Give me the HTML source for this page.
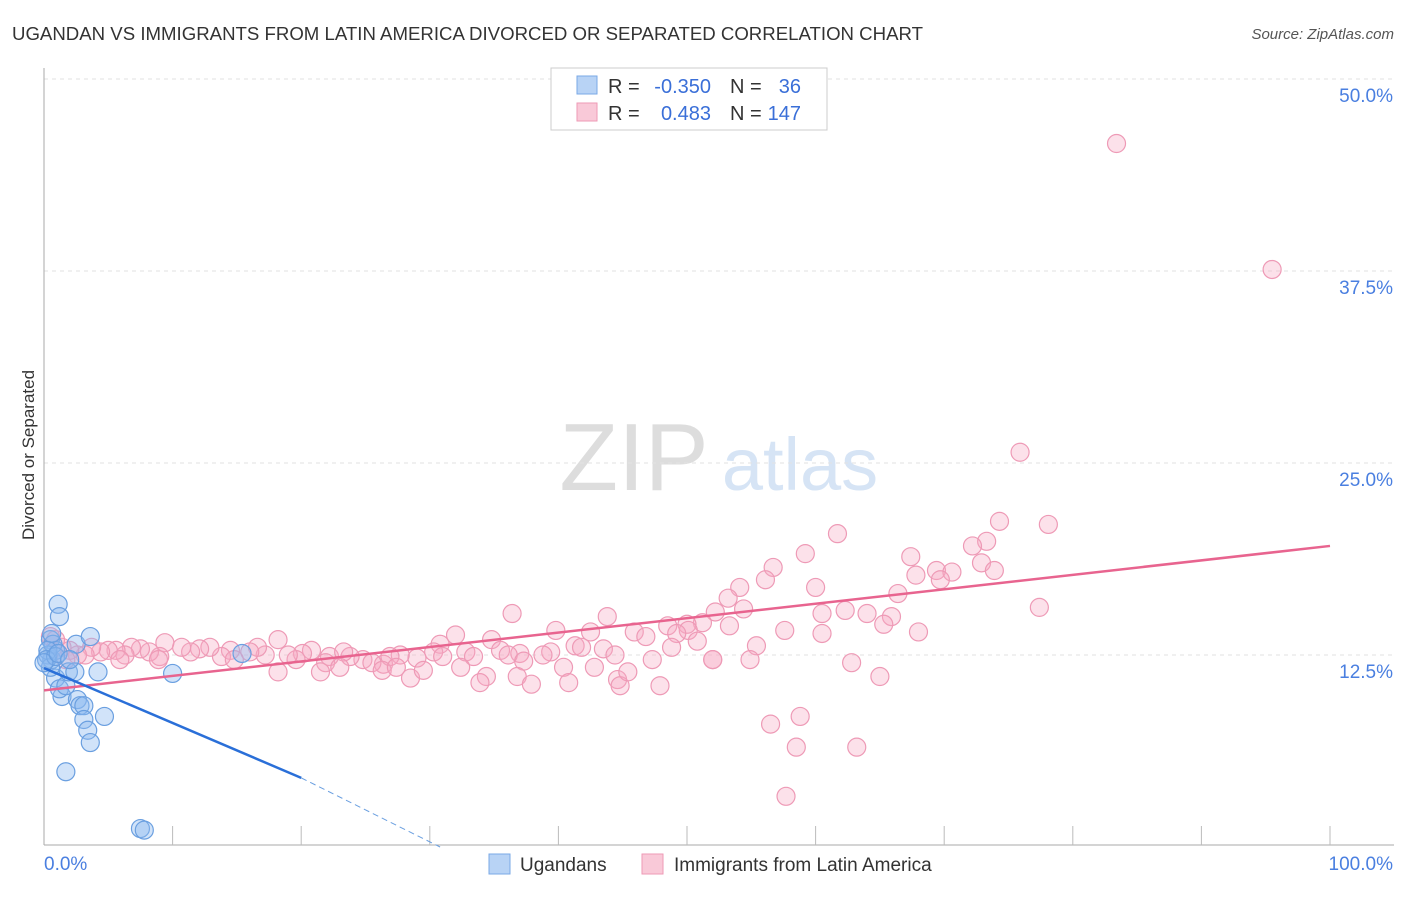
<!DOCTYPE html>
<html><head><meta charset="utf-8"><style>
body{margin:0;background:#fff;font-family:"Liberation Sans",sans-serif;}
svg text{font-family:"Liberation Sans",sans-serif;}
</style></head><body>
<svg id="chart" width="1406" height="892" xmlns="http://www.w3.org/2000/svg">
<text x="12" y="40" font-size="18" fill="#333" textLength="911" lengthAdjust="spacingAndGlyphs">UGANDAN VS IMMIGRANTS FROM LATIN AMERICA DIVORCED OR SEPARATED CORRELATION CHART</text>
<text x="1394" y="39" font-size="15" fill="#555" font-style="italic" text-anchor="end">Source: ZipAtlas.com</text>
<g>
<text x="634" y="490" font-size="96" fill="#ddd" font-family="Liberation Serif" text-anchor="middle">ZIP</text>
<text x="800" y="490" font-size="74" fill="#d6e4f5" text-anchor="middle">atlas</text>
</g>
<g id="grid"></g>
<g id="axes"></g>
<g id="marks"></g>
<text transform="translate(34,455) rotate(-90)" font-size="17" fill="#333" text-anchor="middle">Divorced or Separated</text>
<g>
<rect x="551" y="68" width="276" height="62" fill="#fff" stroke="#ccc"/>
<rect x="577" y="76" width="20" height="18" fill="#b8d3f5" stroke="#7aa8e6"/>
<rect x="577" y="103" width="20" height="18" fill="#f9c9d8" stroke="#ee9ab6"/>
<text x="608" y="93" font-size="20" fill="#333">R =</text>
<text x="711" y="93" font-size="20" fill="#3a6fd8" text-anchor="end">-0.350</text>
<text x="730" y="93" font-size="20" fill="#333">N =</text>
<text x="801" y="93" font-size="20" fill="#3a6fd8" text-anchor="end">36</text>
<text x="608" y="120" font-size="20" fill="#333">R =</text>
<text x="711" y="120" font-size="20" fill="#3a6fd8" text-anchor="end">0.483</text>
<text x="730" y="120" font-size="20" fill="#333">N =</text>
<text x="801" y="120" font-size="20" fill="#3a6fd8" text-anchor="end">147</text>
</g>
<g>
<rect x="489" y="854" width="21" height="20" fill="#b8d3f5" stroke="#7aa8e6"/>
<text x="520" y="871" font-size="19" fill="#333">Ugandans</text>
<rect x="642" y="854" width="21" height="20" fill="#f9c9d8" stroke="#ee9ab6"/>
<text x="674" y="871" font-size="19" fill="#333">Immigrants from Latin America</text>
</g>
</svg>
<script>
const yTicks=[12.5,25,37.5,50];
const yTickLabels=["12.5%","25.0%","37.5%","50.0%"];
const xTickLabels=["0.0%","100.0%"];
const blueX=[0.5,0.6,0.9,0.3,1.1,1.2,0.7,0.9,1.4,1.2,1.7,1.9,2.4,2.5,3.6,4.2,2.6,2.8,3.1,3.1,3.4,3.6,4.7,1.7,7.5,7.8,10.0,15.4,0.3,0.5,0.6,0.2,0.9,0.0,1.1,2.0];
const blueY=[13.5,12.2,12.8,12.5,15.8,15.0,13.2,11.0,9.8,10.3,10.5,11.4,11.4,13.2,13.7,11.4,9.6,9.2,9.2,8.3,7.6,6.8,8.5,4.9,1.2,1.1,11.3,12.6,12.8,11.7,13.9,12.2,12.4,12.0,12.6,12.2];
const pinkX=[83.4,95.5,75.9,74.3,78.1,61.7,73.3,72.2,67.4,59.2,56.7,72.9,69.4,70.6,73.9,67.8,69.7,56.1,54.1,60.0,53.2,66.4,77.4,54.4,52.2,62.3,60.5,64.0,65.9,36.4,43.8,65.3,53.3,51.2,50.0,48.5,50.1,49.2,57.6,60.5,68.0,39.8,42.5,45.9,46.8,50.8,32.0,34.8,30.8,55.4,41.3,41.8,43.5,48.8,35.5,32.8,30.3,39.4,37.0,38.8,36.1,33.4,37.3,31.0,44.4,47.3,52.0,54.9,29.0,27.7,26.4,26.9,24.8,25.5,23.8,22.2,23.3,20.8,20.1,21.9,19.6,19.0,17.2,18.2,16.6,14.5,16.0,13.8,12.9,12.1,11.4,10.7,9.4,9.0,8.2,7.5,6.8,6.3,5.6,5.0,4.4,3.7,3.2,2.6,2.0,1.4,0.9,0.5,1.7,18.2,21.5,23.0,26.3,27.4,28.5,29.5,32.4,34.4,33.9,36.8,37.9,40.4,40.8,42.8,44.6,44.8,45.4,47.9,52.0,62.8,65.0,56.5,58.8,58.5,63.2,57.7,14.8,8.9,5.9];
const pinkY=[45.8,37.6,25.7,21.2,21.0,20.4,19.9,19.6,18.9,19.1,18.2,18.5,18.0,17.9,18.0,17.7,17.4,17.4,16.9,16.9,16.2,16.5,15.6,15.5,15.3,15.4,15.2,15.2,15.0,15.2,15.0,14.5,14.4,14.6,14.5,14.4,14.1,13.9,14.1,13.9,14.0,14.1,14.0,14.0,13.7,13.4,13.8,13.5,13.2,13.1,13.1,13.0,12.9,13.0,12.8,12.7,12.7,12.7,12.6,12.5,12.5,12.4,12.1,12.4,12.5,12.2,12.2,12.2,12.3,12.5,11.9,12.4,12.2,12.0,12.4,12.4,12.7,12.8,12.6,12.0,12.2,12.5,12.5,13.5,13.0,12.8,12.7,12.4,13.0,12.9,12.7,13.0,13.3,12.4,12.7,12.9,13.0,12.5,12.8,12.8,12.7,13.0,12.5,12.5,12.8,13.0,13.5,13.7,12.2,11.4,11.4,11.7,11.5,11.7,11.0,11.5,11.7,11.1,10.7,11.1,10.6,11.7,10.7,11.7,10.9,10.5,11.4,10.5,12.2,12.0,11.1,8.0,8.5,6.5,6.5,3.3,12.2,12.2,12.2];
const pinkTrend=[10.2,19.6];
const blueTrend=[11.65,4.5,0];
const blueTrendX=[0,20,30.8];
const NS="http://www.w3.org/2000/svg";
const X0=44,X1=1330,Y0=847,PXY=15.36;
const sx=v=>X0+(X1-X0)*v/100, sy=v=>Y0-PXY*v;
function mk(tag,attrs,parent){const e=document.createElementNS(NS,tag);for(const k in attrs)e.setAttribute(k,attrs[k]);parent.appendChild(e);return e;}
const grid=document.getElementById('grid'),axes=document.getElementById('axes'),marks=document.getElementById('marks');
yTicks.forEach((t,i)=>{
 const l=mk('line',{x1:X0,x2:1394,y1:sy(t),y2:sy(t),stroke:'#e2e2e2','stroke-dasharray':'4,4'},grid);
 
 
 const tx=mk('text',{x:1393,y:sy(t)+23,'font-size':19,fill:'#4a7fe0','text-anchor':'end'},axes);
 tx.textContent=yTickLabels[i];
 
 
});
mk('line',{x1:X0,x2:X0,y1:68,y2:845,stroke:'#aaa'},axes);
mk('line',{x1:X0,x2:1394,y1:845,y2:845,stroke:'#aaa'},axes);
for(let i=1;i<=10;i++){mk('line',{x1:sx(i*10),x2:sx(i*10),y1:826,y2:845,stroke:'#bbb'},axes);}
const xl0=mk('text',{x:44,y:870,'font-size':19,fill:'#4a7fe0'},axes);xl0.textContent=xTickLabels[0];


const xl1=mk('text',{x:1393,y:870,'font-size':19,fill:'#4a7fe0','text-anchor':'end'},axes);xl1.textContent=xTickLabels[1];


pinkX.forEach((v,i)=>{const c=mk('circle',{cx:sx(v),cy:sy(pinkY[i]),r:9,fill:'rgba(246,170,196,0.35)',stroke:'#ee9ab6','stroke-width':1.2},marks);
 
 });
blueX.forEach((v,i)=>{const c=mk('circle',{cx:sx(v),cy:sy(blueY[i]),r:9,fill:'rgba(140,185,240,0.4)',stroke:'#6a9fe0','stroke-width':1.2},marks);
 
 });
const pl=mk('line',{x1:sx(0),y1:sy(pinkTrend[0]),x2:sx(100),y2:sy(pinkTrend[1]),stroke:'#e8648f','stroke-width':2.5},marks);


const bl=mk('line',{x1:sx(blueTrendX[0]),y1:sy(blueTrend[0]),x2:sx(blueTrendX[1]),y2:sy(blueTrend[1]),stroke:'#2a6fd8','stroke-width':2.5},marks);


const bd=mk('line',{x1:sx(blueTrendX[1]),y1:sy(blueTrend[1]),x2:sx(blueTrendX[2]),y2:sy(blueTrend[2]),stroke:'#6a9fe0','stroke-width':1,'stroke-dasharray':'6,4'},marks);


</script>
</body></html>
